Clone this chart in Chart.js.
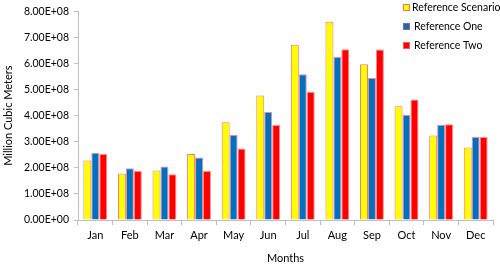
<!DOCTYPE html>
<html lang="en">
<head>
    <meta charset="UTF-8">
    <title>Monthly Volumes</title>
    <script src="https://cdn.jsdelivr.net/npm/chart.js"></script>
    <style>
        html, body {
            margin: 0;
            padding: 0;
            background: #fff;
        }
        #chartContainer {
            width: 500px;
            height: 265px;
        }
    </style>
</head>
<body>
    <div id="chartContainer">
        <canvas id="volumeChart"></canvas>
    </div>

    <script>
        const months = ['Jan', 'Feb', 'Mar', 'Apr', 'May', 'Jun', 'Jul', 'Aug', 'Sep', 'Oct', 'Nov', 'Dec'];
        const referenceScenario = [2.28e8, 1.78e8, 1.90e8, 2.53e8, 3.75e8, 4.77e8, 6.72e8, 7.60e8, 5.97e8, 4.36e8, 3.24e8, 2.78e8];
        const referenceOne = [2.58e8, 1.98e8, 2.05e8, 2.40e8, 3.26e8, 4.14e8, 5.59e8, 6.25e8, 5.44e8, 4.03e8, 3.65e8, 3.18e8];
        const referenceTwo = [2.53e8, 1.88e8, 1.75e8, 1.88e8, 2.74e8, 3.64e8, 4.92e8, 6.55e8, 6.54e8, 4.62e8, 3.67e8, 3.18e8];

        const fontFamily = "Lato, 'Liberation Sans', sans-serif";
        const axisColor = '#bfbfbf';

        function sci(v) {
            if (v === 0) return '0.00E+00';
            return (v / 1e8).toFixed(2) + 'E+08';
        }

        // legend drawn at the top right, over the plot like the original
        const cornerLegend = {
            id: 'cornerLegend',
            afterDraw(chart) {
                const ctx = chart.ctx;
                ctx.save();
                ctx.font = '10.5px ' + fontFamily;
                ctx.textBaseline = 'middle';
                chart.data.datasets.forEach((ds, i) => {
                    const y = 7.5 + i * 19;
                    ctx.fillStyle = ds.backgroundColor;
                    ctx.fillRect(403, y - 3.5, 7, 7);
                    ctx.strokeStyle = ds.borderColor;
                    ctx.lineWidth = 1;
                    ctx.strokeRect(403.5, y - 3, 6, 6);
                    ctx.fillStyle = '#000';
                    ctx.fillText(ds.label, i === 0 ? 412 : 414, y);
                });
                ctx.restore();
            }
        };

        const ctx = document.getElementById('volumeChart').getContext('2d');
        const myChart = new Chart(ctx, {
            type: 'bar',
            data: {
                labels: months,
                datasets: [
                    {
                        label: 'Reference Scenario',
                        data: referenceScenario,
                        backgroundColor: '#ffff00',
                        borderColor: 'rgba(255,90,90,0.85)',
                        borderWidth: 1
                    },
                    {
                        label: 'Reference One',
                        data: referenceOne,
                        backgroundColor: '#0070c0',
                        borderColor: 'rgba(230,90,110,0.7)',
                        borderWidth: 1
                    },
                    {
                        label: 'Reference Two',
                        data: referenceTwo,
                        backgroundColor: '#ff0000',
                        borderColor: 'rgba(255,110,110,0.8)',
                        borderWidth: 1
                    }
                ]
            },
            options: {
                responsive: true,
                maintainAspectRatio: false,
                animation: false,
                layout: {
                    padding: { top: 0, right: 7, left: 0, bottom: 0 }
                },
                categoryPercentage: 0.69,
                barPercentage: 1.0,
                plugins: {
                    legend: { display: false },
                    tooltip: { enabled: false }
                },
                scales: {
                    x: {
                        grid: {
                            display: true,
                            drawOnChartArea: false,
                            drawTicks: true,
                            tickLength: 5,
                            color: axisColor,
                            offset: true
                        },
                        border: { color: axisColor },
                        ticks: {
                            color: '#000',
                            padding: 4,
                            font: { family: fontFamily, size: 11 }
                        },
                        title: {
                            display: true,
                            text: 'Months',
                            color: '#000',
                            padding: { top: 5, bottom: 0 },
                            font: { family: fontFamily, size: 11 }
                        },
                        afterFit(scale) {
                            scale.height = 45;
                        }
                    },
                    y: {
                        min: 0,
                        max: 8e8,
                        grid: {
                            display: true,
                            drawOnChartArea: false,
                            drawTicks: true,
                            tickLength: 4,
                            color: axisColor
                        },
                        border: { color: axisColor },
                        ticks: {
                            stepSize: 1e8,
                            color: '#000',
                            padding: 5,
                            font: { family: fontFamily, size: 10.5 },
                            callback: function (value) {
                                return sci(value);
                            }
                        },
                        title: {
                            display: true,
                            text: 'Million Cubic Meters',
                            color: '#000',
                            padding: { top: 2, bottom: 4 },
                            font: { family: fontFamily, size: 11 }
                        },
                        afterFit(scale) {
                            scale.width = 78;
                        }
                    }
                }
            },
            plugins: [cornerLegend]
        });
    </script>
</body>
</html>
